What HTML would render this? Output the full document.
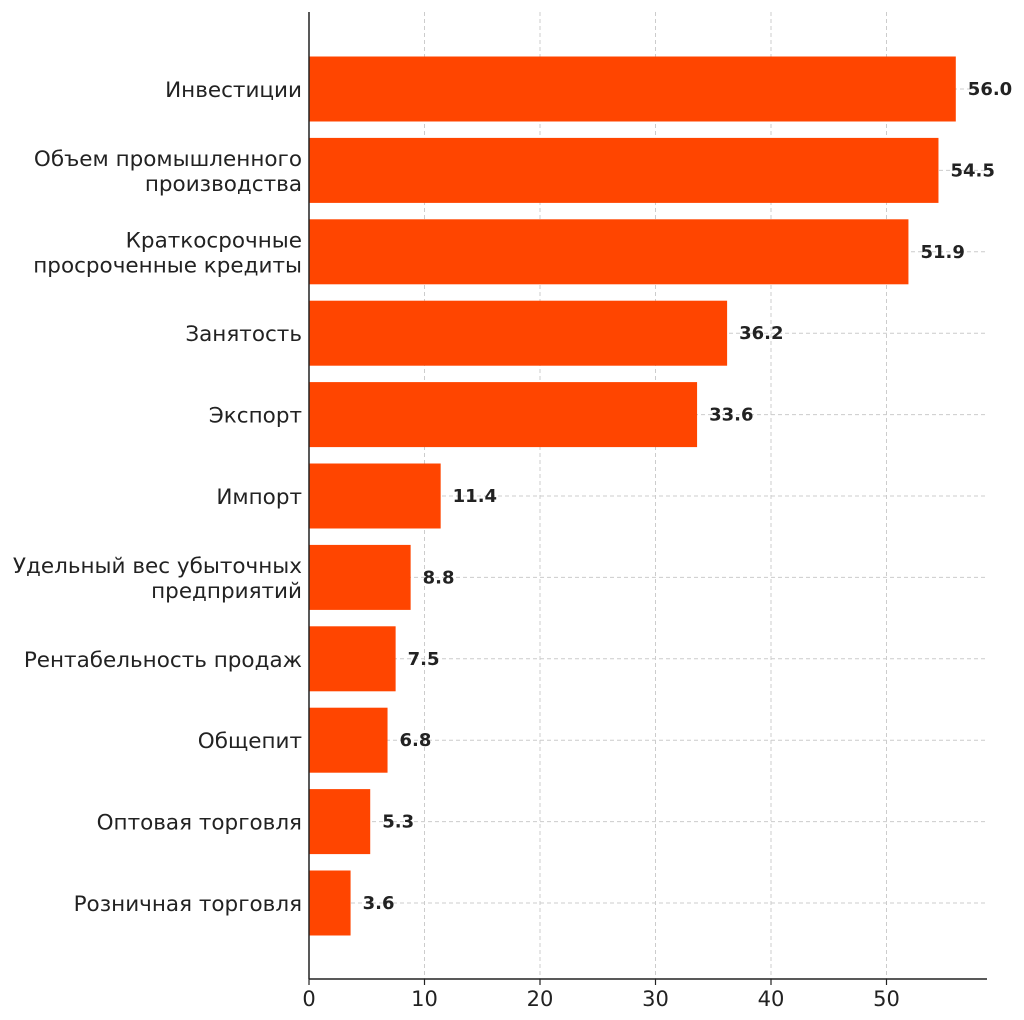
<!DOCTYPE html>
<html><head><meta charset="utf-8"><style>
body{margin:0;background:#fff;}
svg{display:block;font-family:"DejaVu Sans","Liberation Sans",sans-serif;}
</style></head><body>
<svg id="chart" width="1024" height="1020"></svg>
<script>
const categories=["Инвестиции","Объем промышленного\nпроизводства","Краткосрочные\nпросроченные кредиты","Занятость","Экспорт","Импорт","Удельный вес убыточных\nпредприятий","Рентабельность продаж","Общепит","Оптовая торговля","Розничная торговля"];
const values=[56.0,54.5,51.9,36.2,33.6,11.4,8.8,7.5,6.8,5.3,3.6];
const xTicks=[0,10,20,30,40,50];
const svg=document.getElementById('chart');
const NS='http://www.w3.org/2000/svg';
const x0=309,pxPer=11.55,plotTop=12,plotBottom=979,plotRight=987;
const xs=v=>x0+v*pxPer;
const ys=i=>89+i*81.4;
function mk(t,a,p){const e=document.createElementNS(NS,t);for(const k in a)e.setAttribute(k,a[k]);(p||svg).appendChild(e);return e;}
xTicks.forEach(t=>{
 const g=mk('line',{x1:xs(t),x2:xs(t),y1:plotTop,y2:plotBottom,stroke:'#ccc','stroke-dasharray':'4,3','stroke-width':1});
 
 
});
categories.forEach((c,i)=>{
 const g=mk('line',{x1:x0,x2:plotRight,y1:ys(i),y2:ys(i),stroke:'#ccc','stroke-dasharray':'4,3','stroke-width':1});
 
 
});
categories.forEach((c,i)=>{
 const b=mk('rect',{x:x0,y:ys(i)-32.5,width:xs(values[i])-x0,height:65,fill:'#ff4500'});
 
 
 const v=mk('text',{x:xs(values[i])+12,y:ys(i)+6,'font-size':18,'font-weight':'bold',fill:'#222'});
 v.textContent=values[i].toFixed(1);
 
 
 const lines=c.split('\n');
 lines.forEach((l,j)=>{
  const yy=ys(i)+8+(j-(lines.length-1)/2)*25;
  const t=mk('text',{x:302,y:yy,'font-size':21.5,'text-anchor':'end',fill:'#222'});
  t.textContent=l;
  
  
 });
});
const ls=mk('line',{x1:x0,x2:x0,y1:plotTop,y2:plotBottom,stroke:'#222','stroke-width':1.5});


const bs=mk('line',{x1:x0,x2:plotRight,y1:plotBottom,y2:plotBottom,stroke:'#222','stroke-width':1.5});


xTicks.forEach(t=>{
 const k=mk('line',{x1:xs(t),x2:xs(t),y1:plotBottom,y2:plotBottom+6,stroke:'#222','stroke-width':1.2});
 
 
 const l=mk('text',{x:xs(t),y:1006,'font-size':21,'text-anchor':'middle',fill:'#222'});
 l.textContent=t;
 
 
});
</script>
</body></html>
